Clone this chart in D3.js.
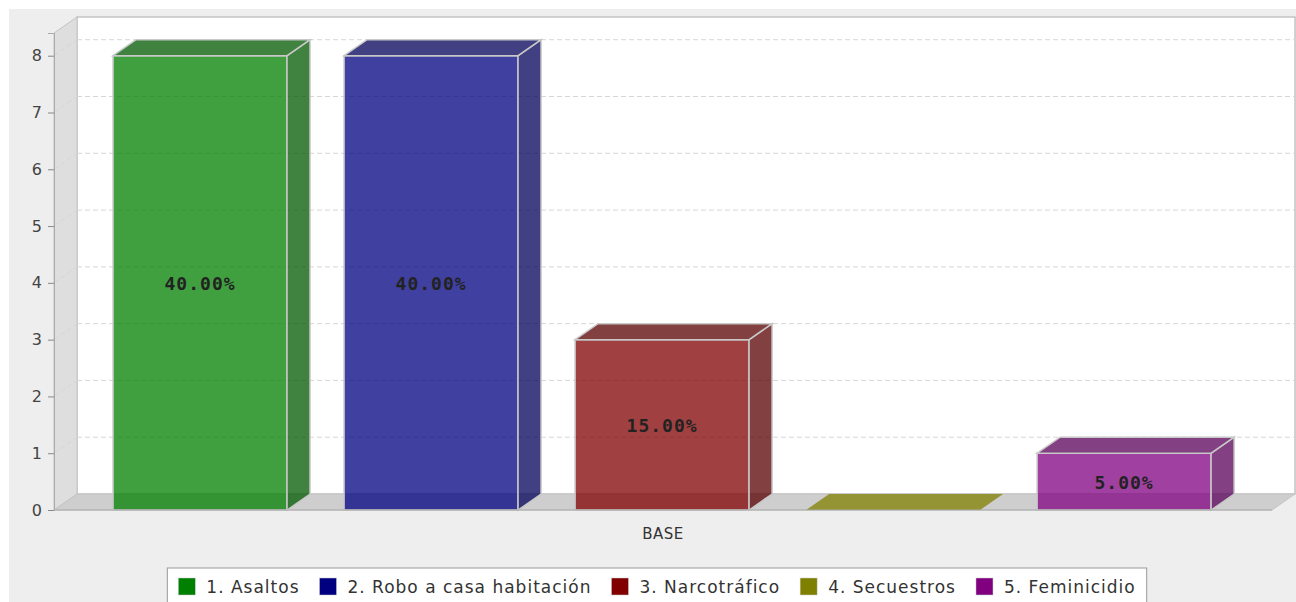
<!DOCTYPE html>
<html>
<head>
<meta charset="utf-8">
<script src="https://cdn.jsdelivr.net/npm/d3@7"></script>
<style>
  body { margin: 0; background: #fff; }
  svg { display: block; }
  .tick text { font-family: "DejaVu Sans", sans-serif; }
</style>
</head>
<body>
<svg id="chart" width="1296" height="602"></svg>
<script>
"use strict";

// data
const categories = ["BASE"];
const seriesNames = ["1. Asaltos", "2. Robo a casa habitación", "3. Narcotráfico", "4. Secuestros", "5. Feminicidio"];
const seriesValues = [8, 8, 3, 0, 1];
const seriesColors = ["#008000", "#000080", "#800000", "#808000", "#800080"];
const yTicks = [0, 1, 2, 3, 4, 5, 6, 7, 8];

let svg = d3.select("#chart"),
  total = d3.sum(seriesValues),
  fmtPct = d3.format(".2%"),
  dx = 23, dy = 16,
  plot = {left: 54, right: 1272, top: 33, bottom: 510},
  alpha = 0.75
;

// chart background
svg.append("rect").attr("x", 9).attr("y", 9).attr("width", 1296).attr("height", 602).attr("fill", "#eeeeee");

let y = d3.scaleLinear().domain([0, d3.max(seriesValues) * 1.05]).range([plot.bottom, plot.top]);

let catW = plot.right - plot.left,
  xCat = d3.scaleBand().domain(categories).range([plot.left, plot.right]).paddingOuter(0),
  x = d3.scaleBand().domain(seriesNames)
    .range([xCat(categories[0]) + catW * 0.0485, xCat(categories[0]) + xCat.bandwidth() - catW * 0.05])
    .paddingInner(0.247).paddingOuter(0)
;

// back wall
svg.append("rect")
  .attr("x", plot.left + dx).attr("y", plot.top - dy)
  .attr("width", plot.right - plot.left).attr("height", plot.bottom - plot.top)
  .attr("fill", "#fff").attr("stroke", "#c4c4c4").attr("stroke-width", 1.5);

// left wall
svg.append("polygon")
  .attr("points", [[plot.left, plot.bottom], [plot.left, plot.top], [plot.left + dx, plot.top - dy], [plot.left + dx, plot.bottom - dy]].join(" "))
  .attr("fill", "#dedede").attr("stroke", "#c4c4c4");

// floor
svg.append("polygon")
  .attr("points", [[plot.left, plot.bottom], [plot.left + dx, plot.bottom - dy], [plot.right + dx, plot.bottom - dy], [plot.right, plot.bottom]].join(" "))
  .attr("fill", "#cecece").attr("stroke", "#c4c4c4");

// grid
let grid = svg.append("g").attr("stroke", "#d6d6d6").attr("stroke-dasharray", "5,3").attr("fill", "none");
grid.selectAll("line.h").data(yTicks.filter(d => d > 0)).enter().append("line")
  .attr("x1", plot.left + dx).attr("x2", plot.right + dx)
  .attr("y1", d => y(d) - dy).attr("y2", d => y(d) - dy);
grid.selectAll("line.d").data(yTicks.filter(d => d > 0)).enter().append("line")
  .attr("x1", plot.left).attr("x2", plot.left + dx)
  .attr("y1", d => y(d)).attr("y2", d => y(d) - dy);

// bars
let bars = svg.selectAll(".bar")
  .data(seriesNames.map((n, i) => ({name: n, value: seriesValues[i], color: seriesColors[i]})))
  .enter().append("g").attr("class", "bar");

bars.each(function(d) {
  let g = d3.select(this),
    x0 = x(d.name), w = x.bandwidth(),
    yt = y(d.value), yb = y(0),
    c = d3.color(d.color),
    dk = d3.rgb(c.r * 0.7, c.g * 0.7, c.b * 0.7)
  ;
  if (d.value > 0) {
    g.append("rect").attr("x", x0).attr("y", yt).attr("width", w).attr("height", yb - yt)
      .attr("fill", d.color).attr("fill-opacity", alpha)
      .attr("stroke", "#c8c8c8").attr("stroke-width", 1.5);
    g.append("polygon")
      .attr("points", [[x0 + w, yt], [x0 + w + dx, yt - dy], [x0 + w + dx, yb - dy], [x0 + w, yb]].join(" "))
      .attr("fill", dk).attr("fill-opacity", alpha)
      .attr("stroke", "#c8c8c8").attr("stroke-width", 1.5);
  }
  g.append("polygon")
    .attr("points", [[x0, yt], [x0 + dx, yt - dy], [x0 + w + dx, yt - dy], [x0 + w, yt]].join(" "))
    .attr("fill", d.value > 0 ? dk : d.color).attr("fill-opacity", alpha)
    .attr("stroke", d.value > 0 ? "#c8c8c8" : "none").attr("stroke-width", 1.5);
});

// value labels
bars.filter(d => d.value > 0).append("text")
  .attr("x", d => x(d.name) + x.bandwidth() / 2)
  .attr("y", d => (y(d.value) + y(0)) / 2 + 1)
  .attr("dy", "0.36em")
  .attr("text-anchor", "middle")
  .attr("font-family", "'DejaVu Sans Mono', monospace")
  .attr("font-weight", "bold")
  .attr("font-size", 18)
  .attr("letter-spacing", 1)
  .attr("fill", "#222")
  .text(d => fmtPct(d.value / total));

// y axis
let yAxis = svg.append("g")
  .attr("transform", "translate(" + plot.left + ",0)")
  .call(d3.axisLeft(y).tickValues(yTicks).tickFormat(d3.format("d")).tickSize(6).tickPadding(6));
yAxis.select(".domain").attr("stroke", "#aaa");
yAxis.selectAll(".tick line").attr("stroke", "#888");
yAxis.selectAll(".tick text").attr("font-size", 16).attr("fill", "#444");

// front floor edge
svg.append("line").attr("x1", plot.left).attr("x2", plot.right).attr("y1", plot.bottom).attr("y2", plot.bottom)
  .attr("stroke", "#aaa");

// category label
svg.append("text")
  .attr("x", xCat(categories[0]) + xCat.bandwidth() / 2).attr("y", 539)
  .attr("text-anchor", "middle")
  .attr("font-family", "'DejaVu Sans', sans-serif").attr("font-size", 15).attr("letter-spacing", 0.5)
  .attr("fill", "#333")
  .text(categories[0]);

// legend
let legend = svg.append("g"),
  box = legend.append("rect").attr("fill", "#fff").attr("stroke", "#999"),
  cx = 0
;
seriesNames.forEach(function(n, i) {
  legend.append("rect").attr("x", cx).attr("y", 578).attr("width", 17).attr("height", 17)
    .attr("fill", seriesColors[i]).attr("stroke", "#ccc").attr("stroke-width", 0.5);
  let t = legend.append("text").attr("x", cx + 28).attr("y", 593)
    .attr("font-family", "'DejaVu Sans', sans-serif").attr("font-size", 17).attr("letter-spacing", 1)
    .attr("fill", "#333").text(n);
  cx += 28 + t.node().getComputedTextLength() + 20;
});
let legW = cx - 20 + 22;
legend.attr("transform", "translate(" + (657 - legW / 2 + 11) + ",0)");
box.attr("x", -11).attr("y", 568).attr("width", legW).attr("height", 50);
</script>
</body>
</html>
